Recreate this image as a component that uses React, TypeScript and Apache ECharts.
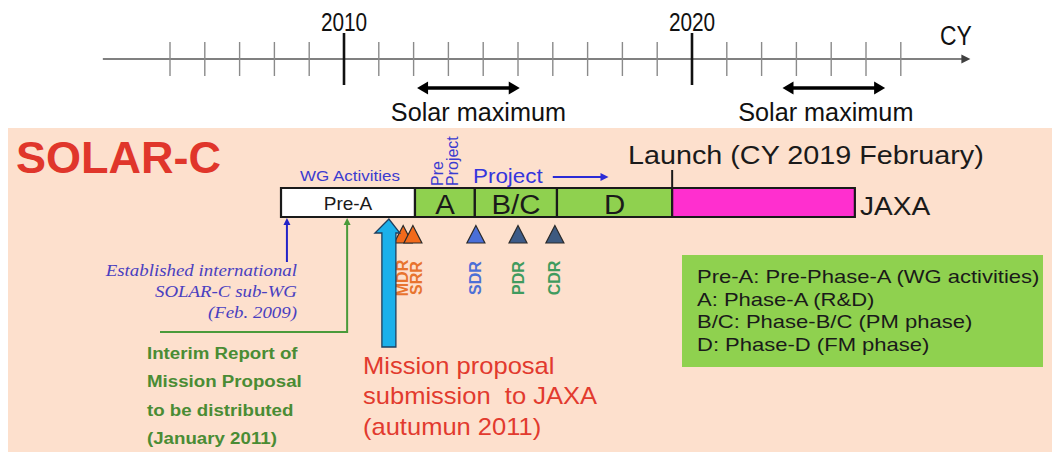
import React, { useEffect, useRef } from "react";
import * as echarts from "echarts";

// ---- data ----
const axisStartYear = 2003.07;
const axisEndYear = 2028.0;
const minorTickYears = [2005, 2006, 2007, 2008, 2009, 2011, 2012, 2013, 2014, 2015, 2016, 2017, 2018, 2019, 2021, 2022, 2023, 2024, 2025, 2026];
const majorTickYears = [2010, 2020];
const majorTickLabels = ["2010", "2020"];
const solarMaxStart = [2012.1, 2022.6];
const solarMaxEnd = [2015.05, 2025.55];
const solarMaxLabels = ["Solar maximum", "Solar maximum"];

const phaseNames = ["Pre-A", "A", "B/C", "D", ""];
const phaseStart = [2008.19, 2012.04, 2013.76, 2016.12, 2019.43];
const phaseEnd = [2012.04, 2013.76, 2016.12, 2019.43, 2024.68];
const phaseColors = ["#ffffff", "#8fd14f", "#8fd14f", "#8fd14f", "#ff2fcf"];

const reviewNames = ["MDR", "SRR", "SDR", "PDR", "CDR"];
const reviewYears = [2011.7, 2011.98, 2013.79, 2015.0, 2016.06];
const reviewFill = ["#f26a1b", "#f26a1b", "#4a6fd8", "#3d5b88", "#3d5a80"];
const reviewLabelColor = ["#e8742e", "#e8742e", "#4d70d6", "#3f9b5e", "#3f9b5e"];

const launchYear = 2019.43;
const subWgYear = 2008.36;
const interimYear = 2010.09;
const proposalYear = 2011.29;
const projectArrowStart = 2016.0;
const projectArrowEnd = 2017.6;

const legendLines = [
  "Pre-A: Pre-Phase-A (WG activities)",
  "A: Phase-A (R&D)",
  "B/C: Phase-B/C (PM phase)",
  "D: Phase-D (FM phase)",
];
const subWgLines = ["Established international", "SOLAR-C sub-WG", "(Feb. 2009)"];
const interimLines = ["Interim Report of", "Mission Proposal", "to be distributed", "(January 2011)"];
const proposalLines = ["Mission proposal", "submission  to JAXA", "(autumun 2011)"];

const SANS = '"Liberation Sans", Arial, Helvetica, sans-serif';
const SERIF = '"Liberation Serif", "Times New Roman", serif';

const AXIS_Y = 59;
const BAR_TOP = 188;
const BAR_BOT = 217;
const SOLAR_LABEL_SHIFT = [10, -8];

function headPts(tx: number, ty: number, dx: number, dy: number, len: number, half: number) {
  const bx = tx - dx * len;
  const by = ty - dy * len;
  const nx = -dy;
  const ny = dx;
  return [
    [tx, ty],
    [bx + nx * half, by + ny * half],
    [bx - nx * half, by - ny * half],
  ];
}

function txt(x: number, y: number, text: string, font: string, fill: string, align = "left", scaleX = 1, rotation = 0) {
  return {
    type: "text",
    x,
    y,
    scaleX,
    rotation,
    style: { text, font, fill, align, verticalAlign: "middle" },
  };
}

export default function App() {
  const ref = useRef<HTMLDivElement>(null);
  useEffect(() => {
    if (!ref.current) return;
    const chart = echarts.init(ref.current, undefined, { renderer: "svg" });

    const option: any = {
      animation: false,
      backgroundColor: "#ffffff",
      grid: { left: 30.8, right: 12, top: 0, bottom: 0 },
      xAxis: { type: "value", min: 2001, max: 2030, show: false },
      yAxis: { type: "value", min: 0, max: 452, inverse: true, show: false },
      graphic: [
        {
          type: "rect",
          z: -10,
          shape: { x: 8, y: 128, width: 1044, height: 324 },
          style: { fill: "#fde0cd" },
        },
        txt(16, 157, "SOLAR-C", `bold 45px ${SANS}`, "#e0362b"),
        txt(940, 35, "CY", `27px ${SANS}`, "#111", "left", 0.85),
        txt(350, 176, "WG Activities", `15px ${SANS}`, "#3b3bd0", "center", 1.13),
        txt(437, 186, "Pre", `16px ${SANS}`, "#3b3bd0", "left", 1, Math.PI / 2),
        txt(452, 186, "Project", `16px ${SANS}`, "#3b3bd0", "left", 1, Math.PI / 2),
        txt(473, 176, "Project", `20px ${SANS}`, "#3535dd", "left", 1.12),
        txt(628, 156, "Launch (CY 2019 February)", `25px ${SANS}`, "#1a1a1a", "left", 1.15),
        txt(860, 206, "JAXA", `26px ${SANS}`, "#1a1a1a", "left", 1.08),
        {
          type: "rect",
          shape: { x: 682, y: 255, width: 361, height: 112 },
          style: { fill: "#8fd14f" },
        },
        ...legendLines.map((t, i) => txt(697, 277 + i * 22.5, t, `18.5px ${SANS}`, "#1a1a1a", "left", 1.19)),
        ...subWgLines.map((t, i) => txt(297, 270.5 + i * 21, t, `italic 16px ${SERIF}`, "#4a3fc0", "right", 1.18)),
        ...interimLines.map((t, i) => txt(147, 353 + i * 28.5, t, `bold 17px ${SANS}`, "#4a8c34", "left", 1.1)),
        ...proposalLines.map((t, i) => txt(363, 366 + i * 30.3, t, `23px ${SANS}`, "#e23a2e", "left", 1.11)),
      ],
      series: [
        // top axis line
        {
          type: "custom",
          clip: false,
          data: [[axisStartYear, axisEndYear]],
          renderItem: (params: any, api: any) => {
            const a = api.coord([axisStartYear, AXIS_Y]);
            const b = api.coord([axisEndYear, AXIS_Y]);
            return {
              type: "group",
              children: [
                { type: "line", shape: { x1: a[0], y1: a[1], x2: b[0] - 6, y2: b[1] }, style: { stroke: "#808080", lineWidth: 2 } },
                { type: "polygon", shape: { points: headPts(b[0], b[1], 1, 0, 9, 4.5) }, style: { fill: "#404040" } },
              ],
            };
          },
        },
        // minor ticks
        {
          type: "custom",
          clip: false,
          data: minorTickYears.map((y) => [y]),
          renderItem: (params: any, api: any) => {
            const yr = minorTickYears[params.dataIndex];
            const p = api.coord([yr, AXIS_Y]);
            return { type: "line", shape: { x1: p[0], y1: 42, x2: p[0], y2: 76 }, style: { stroke: "#8a8a8a", lineWidth: 1.4 } };
          },
        },
        // major ticks + labels
        {
          type: "custom",
          clip: false,
          data: majorTickYears.map((y) => [y]),
          renderItem: (params: any, api: any) => {
            const i = params.dataIndex;
            const p = api.coord([majorTickYears[i], AXIS_Y]);
            return {
              type: "group",
              children: [
                { type: "line", shape: { x1: p[0], y1: 33, x2: p[0], y2: 85 }, style: { stroke: "#111", lineWidth: 2.6 } },
                txt(p[0], 22, majorTickLabels[i], `26px ${SANS}`, "#111", "center", 0.8),
              ],
            };
          },
        },
        // solar maximum arrows
        {
          type: "custom",
          clip: false,
          data: solarMaxStart.map((s, i) => [s, solarMaxEnd[i]]),
          renderItem: (params: any, api: any) => {
            const i = params.dataIndex;
            const a = api.coord([solarMaxStart[i], 88]);
            const b = api.coord([solarMaxEnd[i], 88]);
            return {
              type: "group",
              children: [
                { type: "line", shape: { x1: a[0] + 8, y1: a[1], x2: b[0] - 8, y2: b[1] }, style: { stroke: "#000", lineWidth: 3.5 } },
                { type: "polygon", shape: { points: headPts(a[0], a[1], -1, 0, 11, 6.5) }, style: { fill: "#000" } },
                { type: "polygon", shape: { points: headPts(b[0], b[1], 1, 0, 11, 6.5) }, style: { fill: "#000" } },
                txt((a[0] + b[0]) / 2 + SOLAR_LABEL_SHIFT[i], 112, solarMaxLabels[i], `26px ${SANS}`, "#111", "center", 0.97),
              ],
            };
          },
        },
        // phases bar
        {
          type: "custom",
          clip: false,
          data: phaseStart.map((s, i) => [s, phaseEnd[i]]),
          renderItem: (params: any, api: any) => {
            const i = params.dataIndex;
            const a = api.coord([phaseStart[i], BAR_TOP]);
            const b = api.coord([phaseEnd[i], BAR_BOT]);
            const children: any[] = [
              {
                type: "rect",
                shape: { x: a[0], y: a[1], width: b[0] - a[0], height: b[1] - a[1] },
                style: { fill: phaseColors[i], stroke: "#1a1a1a", lineWidth: 2.2 },
              },
            ];
            if (phaseNames[i]) {
              children.push(
                txt(
                  (a[0] + b[0]) / 2,
                  (a[1] + b[1]) / 2 + (i === 0 ? 0.5 : 2),
                  phaseNames[i],
                  `${i === 0 ? 19 : 28}px ${SANS}`,
                  "#1a1a1a",
                  "center",
                  i === 0 ? 1 : 1.05
                )
              );
            }
            return { type: "group", children };
          },
        },
        // launch tick
        {
          type: "custom",
          clip: false,
          z: 3,
          data: [[launchYear]],
          renderItem: (params: any, api: any) => {
            const p = api.coord([launchYear, BAR_TOP]);
            return { type: "line", shape: { x1: p[0], y1: 170, x2: p[0], y2: p[1] }, style: { stroke: "#1a1a1a", lineWidth: 2 } };
          },
        },
        // project arrow
        {
          type: "custom",
          clip: false,
          data: [[projectArrowStart, projectArrowEnd]],
          renderItem: (params: any, api: any) => {
            const a = api.coord([projectArrowStart, 177]);
            const b = api.coord([projectArrowEnd, 177]);
            return {
              type: "group",
              children: [
                { type: "line", shape: { x1: a[0], y1: a[1], x2: b[0] - 6, y2: b[1] }, style: { stroke: "#2b2bd6", lineWidth: 2 } },
                { type: "polygon", shape: { points: headPts(b[0], b[1], 1, 0, 8, 4) }, style: { fill: "#2b2bd6" } },
              ],
            };
          },
        },
        // review triangles + labels
        {
          type: "custom",
          clip: false,
          data: reviewYears.map((y) => [y]),
          renderItem: (params: any, api: any) => {
            const i = params.dataIndex;
            const p = api.coord([reviewYears[i], 234]);
            const lx = i === 0 ? p[0] - 1 : i === 1 ? p[0] + 4 : p[0];
            return {
              type: "group",
              children: [
                {
                  type: "polygon",
                  shape: { points: [[p[0], 225.5], [p[0] - 9, 243], [p[0] + 9, 243]] },
                  style: { fill: reviewFill[i], stroke: "#2a2a2a", lineWidth: 1.2 },
                },
                txt(lx, 278, reviewNames[i], `bold 16px ${SANS}`, reviewLabelColor[i], "center", 1, Math.PI / 2),
              ],
            };
          },
        },
        // event markers: sub-WG (blue), interim (green), proposal (cyan)
        {
          type: "custom",
          clip: false,
          z: 4,
          data: [[subWgYear], [interimYear], [proposalYear]],
          renderItem: (params: any, api: any) => {
            const i = params.dataIndex;
            if (i === 0) {
              const p = api.coord([subWgYear, BAR_BOT + 1]);
              return {
                type: "group",
                children: [
                  { type: "line", shape: { x1: p[0], y1: p[1] + 5, x2: p[0], y2: 262 }, style: { stroke: "#2323c8", lineWidth: 2 } },
                  { type: "polygon", shape: { points: headPts(p[0], p[1], 0, -1, 7, 3.5) }, style: { fill: "#2323c8" } },
                ],
              };
            }
            if (i === 1) {
              const p = api.coord([interimYear, BAR_BOT + 1]);
              return {
                type: "group",
                children: [
                  {
                    type: "polyline",
                    shape: { points: [[p[0], p[1] + 5], [p[0], 332], [160, 332]] },
                    style: { stroke: "#4a9a3a", lineWidth: 2, fill: "none" },
                  },
                  { type: "polygon", shape: { points: headPts(p[0], p[1], 0, -1, 7, 3.5) }, style: { fill: "#4a9a3a" } },
                ],
              };
            }
            const p = api.coord([proposalYear, 219]);
            const cx = p[0];
            return {
              type: "polygon",
              shape: {
                points: [
                  [cx, 219],
                  [cx + 11, 233],
                  [cx + 7, 233],
                  [cx + 7, 347],
                  [cx - 7, 347],
                  [cx - 7, 233],
                  [cx - 14, 233],
                ],
              },
              style: { fill: "#1cb0ea", stroke: "#1f3f5f", lineWidth: 1.3 },
            };
          },
        },
      ],
    };

    chart.setOption(option);
    return () => chart.dispose();
  }, []);

  return <div ref={ref} style={{ position: "absolute", left: 0, top: 0, width: 1052, height: 452 }} />;
}
